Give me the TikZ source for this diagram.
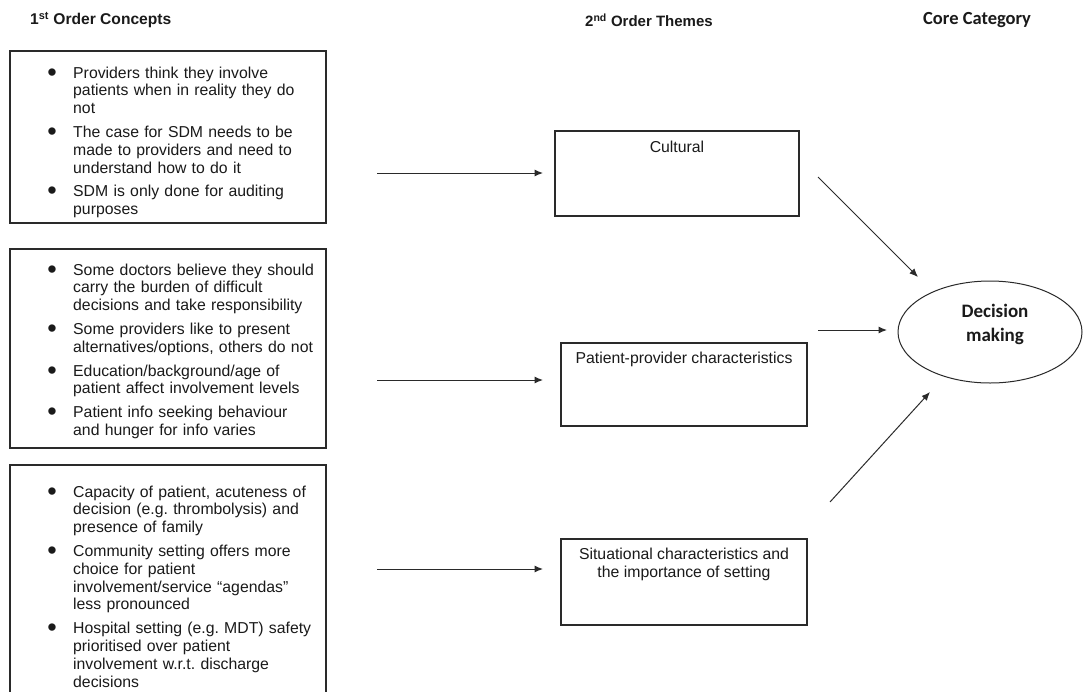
\documentclass[tikz,border=0pt]{standalone}
\usepackage{fontspec}
\setmainfont{Liberation Sans}
\newfontfamily\calib{Carlito}
\usetikzlibrary{arrows.meta,shapes.geometric}
\frenchspacing

\definecolor{ink}{HTML}{1A1A1A}
\definecolor{edge}{HTML}{2A2A2A}

% large round bullet, sitting high on the line, in a fixed-width box
\newcommand\dotmark{\makebox[8pt][c]{\raisebox{-3pt}{\fontsize{27}{0}\selectfont\textbullet}}}

% compact bullet list used inside the concept boxes
\newenvironment{bulletlist}{\begin{list}{\dotmark}{%
  \setlength\leftmargin{0pt}\setlength\rightmargin{0pt}%
  \setlength\labelwidth{8pt}\setlength\labelsep{17pt}%
  \setlength\itemindent{0pt}\setlength\listparindent{0pt}%
  \setlength\itemsep{6pt}\setlength\parsep{0pt}%
  \setlength\topsep{0pt}\setlength\partopsep{0pt}}}{\end{list}}

\begin{document}
\begin{tikzpicture}[x=1pt,y=-1pt,
  every node/.style={text=ink},
  box/.style={draw=edge, line width=1.2pt, inner sep=0pt},
  bodytext/.style={inner sep=0pt, font=\fontsize{15.8}{17.8}\selectfont\frenchspacing},
  concepts/.style={bodytext, anchor=north west, text width=262pt, align=left},
  theme/.style={bodytext, anchor=north, align=center},
  head/.style={inner sep=0pt, anchor=west, font=\fontsize{15.6}{18}\selectfont\bfseries},
  link/.style={draw=edge, line width=1pt, -{Latex[length=8.5pt,width=7pt]}}]

\useasboundingbox (0,0) rectangle (1084,691);
\fill[white] (0,0) rectangle (1084,691);

% column headings
\node[head] (h1) at (30,20) {1\textsuperscript{st} Order Concepts};
\node[head, font=\fontsize{15}{18}\selectfont\bfseries] (h2) at (585,20) {2\textsuperscript{nd} Order Themes};
\node[head, font=\calib\fontsize{18.5}{22}\selectfont\bfseries] (h3) at (923,20) {Core Category};

% first order concept boxes
\node[box, minimum width=316pt, minimum height=172pt] (b1) at (168,137) {};
\node[box, minimum width=316pt, minimum height=199pt] (b2) at (168,348.5) {};
\node[box, minimum width=316pt, minimum height=255pt] (b3) at (168,592.5) {};

\node[concepts] (t1) at (73,60) {\begin{bulletlist}
\item Providers think they involve\\patients when in reality they do\\not
\item The case for SDM needs to be\\made to providers and need to\\understand how to do it
\item SDM is only done for auditing\\purposes
\end{bulletlist}};

\node[concepts] (t2) at (73,257) {\begin{bulletlist}
\item Some doctors believe they should\\carry the burden of difficult\\decisions and take responsibility
\item Some providers like to present\\alternatives/options, others do not
\item Education/background/age of\\patient affect involvement levels
\item Patient info seeking behaviour\\and hunger for info varies
\end{bulletlist}};

\node[concepts] (t3) at (73,479) {\begin{bulletlist}
\item Capacity of patient, acuteness of\\decision (e.g. thrombolysis) and\\presence of family
\item Community setting offers more\\choice for patient\\involvement/service \textquotedblleft agendas\textquotedblright\\less pronounced
\item Hospital setting (e.g. MDT) safety\\prioritised over patient\\involvement w.r.t. discharge\\decisions
\end{bulletlist}};

% second order theme boxes
\node[box, minimum width=244pt, minimum height=85pt] (cult) at (677,173.5) {};
\node[box, minimum width=246pt, minimum height=83pt] (pp) at (684,384.5) {};
\node[box, minimum width=246pt, minimum height=86pt] (sit) at (684,582) {};

\node[theme] (cultlbl) at (677,141) {Cultural};
\node[theme] (pplbl) at (684,352) {Patient-provider characteristics};
\node[theme] (sitlbl) at (684,548) {Situational characteristics and\\the importance of setting};

% core category
\node[draw=edge, line width=1pt, ellipse, minimum width=184pt, minimum height=102pt, inner sep=0pt] (core) at (990,332) {};
\node[inner sep=0pt, align=center, font=\calib\bfseries\fontsize{19}{24}\selectfont] (corelbl) at (995,324) {Decision\\making};

% arrow ends
\coordinate (a1s) at (377,173); \coordinate (a1e) at (543,173);
\coordinate (a2s) at (377,380); \coordinate (a2e) at (543,380);
\coordinate (a3s) at (377,569); \coordinate (a3e) at (543,569);
\coordinate (d1s) at (818,177); \coordinate (d1e) at (918,277);
\coordinate (d2s) at (818,330); \coordinate (d2e) at (887,330);
\coordinate (d3s) at (830,502); \coordinate (d3e) at (930,392);

\draw[link] (a1s) -- (a1e);
\draw[link] (a2s) -- (a2e);
\draw[link] (a3s) -- (a3e);
\draw[link] (d1s) -- (d1e);
\draw[link] (d2s) -- (d2e);
\draw[link] (d3s) -- (d3e);
\end{tikzpicture}
\end{document}
